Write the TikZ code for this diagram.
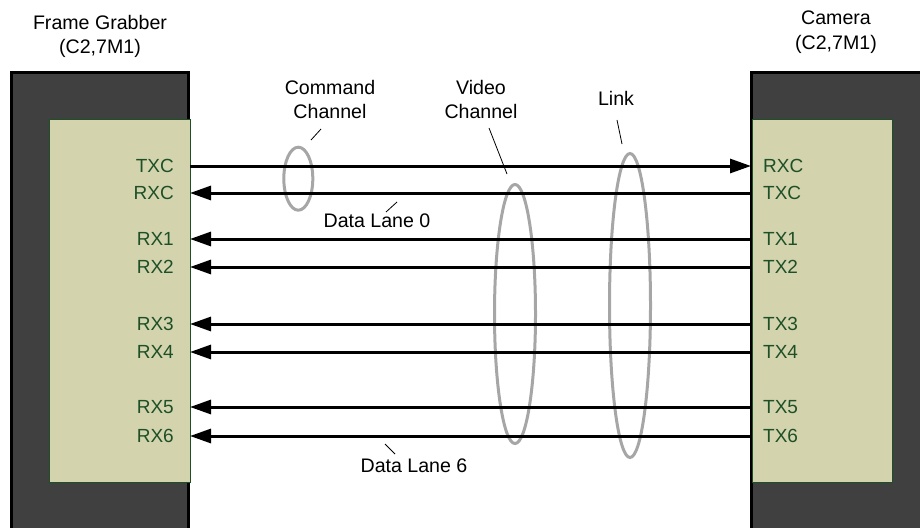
\documentclass[tikz,border=0pt]{standalone}
\usepackage{fontspec}
\setmainfont{Liberation Sans}
\usetikzlibrary{arrows.meta}
\definecolor{boxdark}{HTML}{404040}
\definecolor{boxtan}{HTML}{D3D3AD}
\definecolor{pingreen}{HTML}{1E5028}
\definecolor{ringgray}{HTML}{A6A6A6}
\begin{document}
\begin{tikzpicture}[x=1pt,y=-1pt,
  lbl/.style={font=\fontsize{19.6}{24}\selectfont, inner sep=0pt, anchor=base},
  pinL/.style={lbl, font=\fontsize{19}{24}\selectfont, text=pingreen, anchor=base east},
  pinR/.style={lbl, font=\fontsize{19}{24}\selectfont, text=pingreen, anchor=base west},
  wire/.style={line width=3pt},
  tipR/.style={wire, -{Triangle[length=21pt,width=14pt]}},
  ring/.style={draw=ringgray, line width=3pt},
  leader/.style={line width=0.8pt},
  outline/.style={line width=3pt, line join=miter},
  panel/.style={fill=boxtan, draw=pingreen, line width=1pt}]
\useasboundingbox (0,0) rectangle (920,527);

% device housings
\fill[boxdark] (11.5,72.5) rectangle (188.5,530);
\draw[outline] (11.5,530) -- (11.5,72.5) -- (188.5,72.5) -- (188.5,530);
\fill[boxdark] (751.5,72.5) rectangle (925,530);
\draw[outline] (925,72.5) -- (751.5,72.5) -- (751.5,530);

% connector panels
\draw[panel] (49,119) rectangle (190,482);
\draw[panel] (752.5,119) rectangle (892,482);

% titles
\node[lbl] (fg1) at (100,29.5) {Frame Grabber};
\node[lbl] (fg2) at (100,53.5) {(C2,7M1)};
\node[lbl] (cam1) at (836,25) {Camera};
\node[lbl] (cam2) at (836,49.5) {(C2,7M1)};

% left pins
\foreach \n/\y/\t in {a/166/TXC, b/193/RXC, c/239/RX1, d/267/RX2, e/324/RX3, f/352/RX4, g/407/RX5, h/436/RX6}{
  \node[pinL] (L\n) at (174,\y+6.5) {\t};
  \coordinate (PL\n) at (190,\y);
}
% right pins
\foreach \n/\y/\t in {a/166/RXC, b/193/TXC, c/239/TX1, d/267/TX2, e/324/TX3, f/352/TX4, g/407/TX5, h/436/TX6}{
  \node[pinR] (R\n) at (763,\y+6.5) {\t};
  \coordinate (PR\n) at (751,\y);
}

% channel rings
\draw[ring] (298.3,178.7) ellipse [x radius=14.5, y radius=31.5];
\draw[ring] (515,314) ellipse [x radius=20.5, y radius=129.5];
\draw[ring] (630,305.5) ellipse [x radius=20.5, y radius=152];

% wires
\draw[tipR] (PLa) -- (PRa);
\foreach \n in {b,c,d,e,f,g,h}{
  \draw[tipR] (PR\n) -- (PL\n);
}

% labels
\node[lbl] (cmd1) at (330,94) {Command};
\node[lbl] (cmd2) at (330,118) {Channel};
\node[lbl] (vid1) at (481,94) {Video};
\node[lbl] (vid2) at (481,118) {Channel};
\node[lbl] (lnk) at (616,105) {Link};
\node[lbl] (dl0) at (377,227) {Data Lane 0};
\node[lbl] (dl6) at (414,472) {Data Lane 6};

% leader lines
\coordinate (c1a) at (311,140); \coordinate (c1b) at (321,129);
\coordinate (v1a) at (489,128); \coordinate (v1b) at (507,174);
\coordinate (k1a) at (617,120); \coordinate (k1b) at (622,144);
\coordinate (d0a) at (386,212); \coordinate (d0b) at (397,202);
\coordinate (d6a) at (385,444); \coordinate (d6b) at (395,454);
\draw[leader] (c1a) -- (c1b);
\draw[leader] (v1a) -- (v1b);
\draw[leader] (k1a) -- (k1b);
\draw[leader] (d0a) -- (d0b);
\draw[leader] (d6a) -- (d6b);
\end{tikzpicture}
\end{document}
